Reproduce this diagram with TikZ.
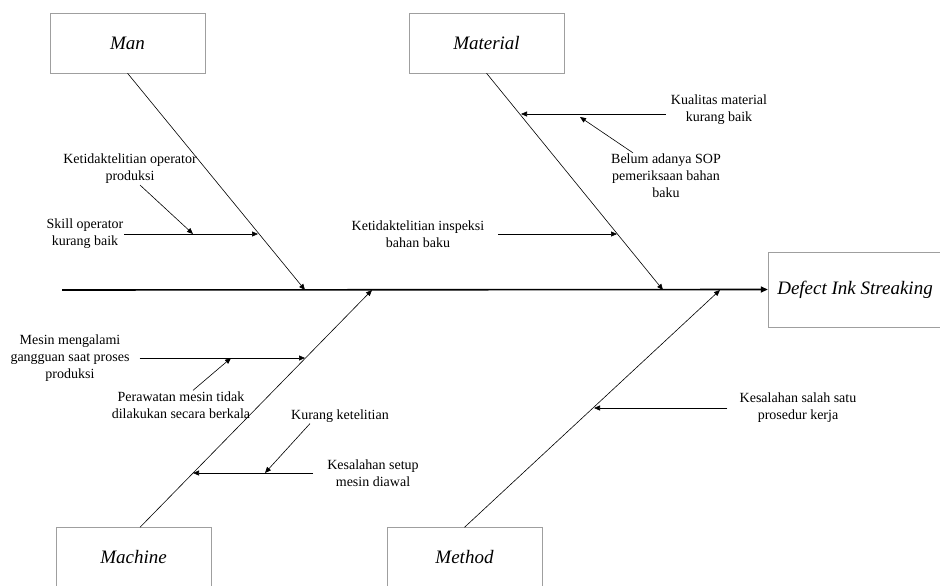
\documentclass[tikz,border=0pt]{standalone}
\usepackage{fontspec}
\setmainfont{Liberation Serif}
\usetikzlibrary{arrows.meta}

\begin{document}
\begin{tikzpicture}[x=1pt,y=-1pt, every node/.style={font=\fontsize{14}{17}\selectfont}, cat/.style={draw=gray!75,minimum width=155pt,minimum height=60pt,font=\fontsize{19}{22}\selectfont\itshape}, cause/.style={align=center,inner sep=1pt}, arr/.style={-{Triangle[length=6pt,width=5pt]},line width=0.6pt}, spine/.style={-{Triangle[length=7pt,width=6pt]},line width=1.6pt}]
\useasboundingbox (0,0) rectangle (940,586);
% categories and effect
\node[cat] (man) at (127.5,43) {Man};
\node[cat] (material) at (486.5,43) {Material};
\node[cat] (machine) at (133.5,557.5) {Machine};
\node[cat] (method) at (464.5,557.5) {Method};
\node[cat,minimum width=174pt,minimum height=75pt] (effect) at (855,289.5) {Defect Ink Streaking};
% points on the bones
\coordinate (tail) at (62,290);
\coordinate (sman) at (305,290); \coordinate (smach) at (372,290);
\coordinate (smat) at (663,290); \coordinate (smeth) at (720,290);
\coordinate (bman) at (258,234); \coordinate (bmat1) at (521,114); \coordinate (bmat2) at (617,234);
\coordinate (bmach1) at (305,358); \coordinate (bmach2) at (193,473); \coordinate (bmeth) at (594,408);
\coordinate (sub1) at (193,234); \coordinate (sub2) at (580,117); \coordinate (sub3) at (231,358); \coordinate (sub4) at (265,473);
% causes
\node[cause] (skill) at (85,234) {Skill operator\\kurang baik};
\node[cause] (ketop) at (130,169) {Ketidaktelitian operator\\produksi};
\node[cause] (kualitas) at (719,110) {Kualitas material\\kurang baik};
\node[cause] (belum) at (666,176) {Belum adanya SOP\\pemeriksaan bahan\\baku};
\node[cause] (inspeksi) at (418,234) {Ketidaktelitian inspeksi\\bahan baku};
\node[cause] (mesin) at (70,358) {Mesin mengalami\\gangguan saat proses\\produksi};
\node[cause] (rawat) at (181,405) {Perawatan mesin tidak\\dilakukan secara berkala};
\node[cause] (kurang) at (340,416) {Kurang ketelitian};
\node[cause] (setup) at (373,473) {Kesalahan setup\\mesin diawal};
\node[cause] (prosedur) at (798,408) {Kesalahan salah satu\\prosedur kerja};
% spine and bones
\draw[spine] (tail) -- (effect.west);
\draw[arr] (man.south) -- (sman);
\draw[arr] (material.south) -- (smat);
\draw[arr] ([xshift=6.5pt]machine.north) -- (smach);
\draw[arr] (method.north) -- (smeth);
% cause arrows
\draw[arr] (skill.east) -- (bman);
\draw[arr] ([xshift=10pt]ketop.south) -- (sub1);
\draw[arr] ([xshift=-4pt,yshift=-4pt]kualitas.west) -- (bmat1);
\draw[arr] ([xshift=-33pt]belum.north) -- (sub2);
\draw[arr] ([xshift=13pt]inspeksi.east) -- (bmat2);
\draw[arr] ([xshift=9pt]mesin.east) -- (bmach1);
\draw[arr] ([xshift=12pt]rawat.north) -- (sub3);
\draw[arr] ([xshift=-30pt]kurang.south) -- (sub4);
\draw[arr] ([xshift=-13pt]setup.west) -- (bmach2);
\draw[arr] ([xshift=-11pt]prosedur.west) -- (bmeth);
\end{tikzpicture}
\end{document}
